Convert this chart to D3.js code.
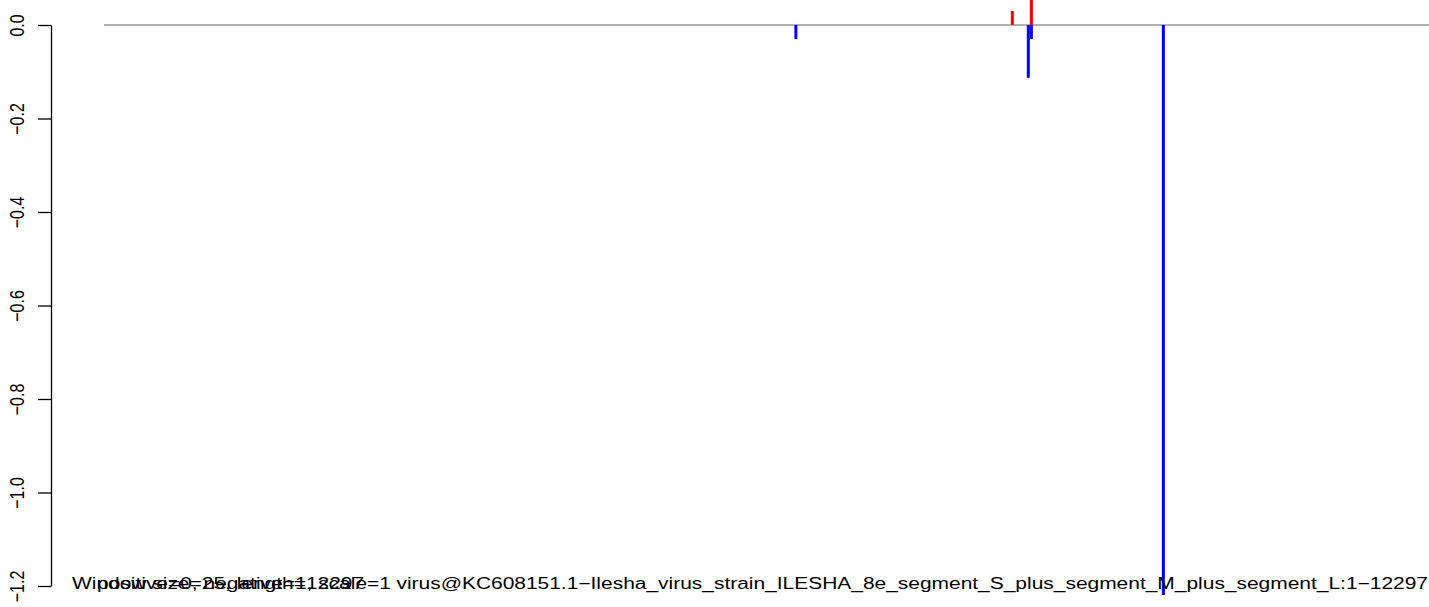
<!DOCTYPE html>
<html><head><meta charset="utf-8">
<script src="https://cdn.jsdelivr.net/npm/d3@7"></script>
<style>body{margin:0;background:#fff}svg{display:block}text{font-family:"Liberation Sans",Arial,Helvetica,sans-serif}</style>
</head><body><svg id="c" width="1429" height="607"></svg>
<script>
const positions = [6369, 8361, 8536, 8508, 8536, 9751];
const values    = [-0.03, 0.03, 0.08, -0.113, -0.03, -1.25];
const strands   = ["minus","plus","plus","minus","minus","minus"];
const yTicks = [0.0, -0.2, -0.4, -0.6, -0.8, -1.0, -1.2];
const genomeLength = 12297;
const captions = ["Window size=25, length=12297", "positive=0, negative=1, scale=1"];
const captionX = [72, 97];
const title = "virus@KC608151.1\u2212Ilesha_virus_strain_ILESHA_8e_segment_S_plus_segment_M_plus_segment_L:1\u221212297";

const SX = 1.31; // horizontal stretch of glyphs in the reference
const svg = d3.select("#c");
const x = d3.scaleLinear().domain([1, genomeLength]).range([104, 1440]);
const y = d3.scaleLinear().domain([-1.2, 0]).range([586, 25]);
const color = {plus:"#ff0000", minus:"#0000ff"};

svg.append("defs").append("clipPath").attr("id","pc").append("rect")
  .attr("x",51).attr("y",0).attr("width",1429).attr("height",595);

const g = svg.append("g").attr("clip-path","url(#pc)");
g.append("line").attr("x1",x(1)).attr("x2",x(genomeLength)).attr("y1",y(0)).attr("y2",y(0))
  .attr("stroke","#999").attr("stroke-width",1.5);
g.selectAll("rect.bar").data(positions.map((p,i)=>({p,v:values[i],s:strands[i]}))).join("rect")
  .attr("class","bar")
  .attr("x",d=>x(d.p)-1.5).attr("width",3)
  .attr("y",d=>Math.min(y(0),y(d.v))).attr("height",d=>Math.abs(y(d.v)-y(0)))
  .attr("fill",d=>color[d.s]);

const ax = svg.append("g").attr("transform","translate(51,0)")
  .call(d3.axisLeft(y).tickValues(yTicks).tickSize(13).tickSizeOuter(0));
ax.select(".domain").attr("stroke","#000").attr("stroke-width",1.3);
ax.selectAll(".tick line").attr("stroke","#000").attr("stroke-width",1.3);
ax.selectAll(".tick text").remove();
ax.selectAll(".tick").append("text")
  .attr("font-size",16).attr("fill","#000").attr("text-anchor","middle")
  .attr("transform",`translate(-27,0) scale(${SX},1) rotate(-90)`)
  .text(d=>d3.format(".1f")(d).replace("-","\u2212"));

captions.forEach((t,i)=>svg.append("text").attr("transform",`translate(${captionX[i]},589) scale(${SX},1)`)
  .attr("font-size",16).text(t));
svg.append("text").attr("transform",`translate(1428,589) scale(${SX},1)`)
  .attr("font-size",16).attr("text-anchor","end").text(title);
</script></body></html>
